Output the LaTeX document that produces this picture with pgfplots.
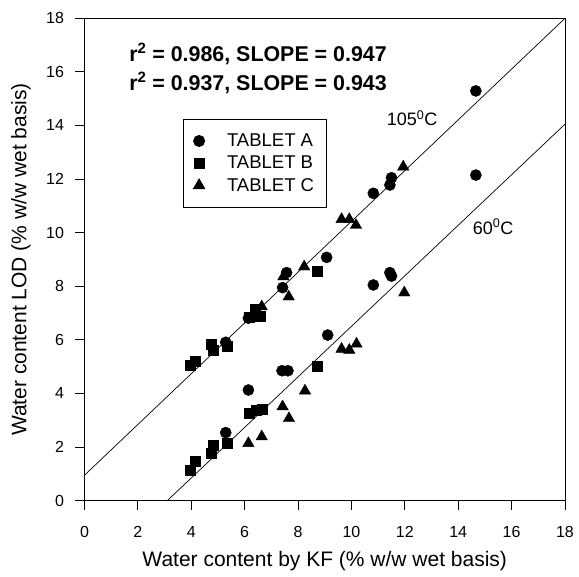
\documentclass[border=0pt]{standalone}
\usepackage{pgfplots}
\pgfplotsset{compat=1.18}
\usepackage{fontspec}
\setmainfont{Liberation Sans}
\begin{document}
\begin{tikzpicture}
\begin{axis}[
  at={(0,0)}, anchor=south west,
  scale only axis, width=480.5pt, height=482.4pt,
  xmin=0, xmax=18, ymin=0, ymax=18,
  xtick={0,2,...,18}, ytick={0,2,...,18},
  tick align=outside, tick pos=left,
  major tick length=9pt,
  axis line style={line width=0.8pt},
  tick style={line width=0.8pt, black},
  /pgf/number format/assume math mode=true,
  tick label style={font=\fontsize{16}{19}\selectfont},
  xticklabel style={anchor=center, yshift=-22pt},
  yticklabel style={anchor=east, xshift=-8pt},
  xlabel={Water content by KF (\% w/w wet basis)},
  ylabel={Water content LOD (\% w/w wet basis)},
  label style={font=\fontsize{21}{25}\selectfont},
  xlabel style={at={(axis description cs:0.5,-0.1244)}, anchor=center},
  ylabel style={at={(axis description cs:-0.1322,0.5)}, anchor=center, rotate=0},
  legend style={at={(0.2044,0.7913)}, anchor=north west, draw=black, line width=0.8pt,
    font=\fontsize{18.5}{22}\selectfont, row sep=4pt, inner xsep=10pt, inner ysep=12.5pt,
    cells={anchor=west}},
  legend image code/.code={\path (-5.6pt,0pt) (25.5pt,0pt); \draw[#1] plot coordinates {(0pt,0pt)};},
  legend cell align=left,
  clip=false,
]
\addplot[only marks, mark=*, mark size=5.6pt, black] coordinates {
(6.14,6.81) (5.29,5.91) (7.42,7.95) (7.57,8.51) (9.07,9.08) (10.82,11.47) (11.44,11.78) (11.50,12.05) (14.66,15.29)
(5.29,2.54) (6.14,4.13) (7.40,4.85) (7.62,4.85) (9.11,6.18) (10.82,8.05) (11.44,8.51) (11.50,8.38) (14.66,12.15)
};
\addlegendentry{TABLET A}
\addplot[only marks, mark=square*, mark size=5pt, black] coordinates {
(3.95,5.04) (4.14,5.22) (4.76,5.85) (4.82,5.62) (5.33,5.78) (6.17,6.85) (6.41,7.14) (6.60,6.89) (8.72,8.55)
(3.95,1.15) (4.14,1.46) (4.76,1.79) (4.82,2.07) (5.33,2.16) (6.17,3.26) (6.42,3.36) (6.64,3.41) (8.73,5.00)
};
\addlegendentry{TABLET B}
\addplot[only marks, mark=triangle*, mark size=6.6pt, black] coordinates {
(6.64,7.24) (7.45,8.36) (7.65,7.61) (8.23,8.73) (9.63,10.50) (9.92,10.50) (10.17,10.28) (11.94,12.46)
(6.14,2.14) (6.64,2.39) (7.42,3.51) (7.66,3.07) (8.26,4.10) (9.63,5.66) (9.92,5.62) (10.19,5.85) (11.98,7.76)
};
\addlegendentry{TABLET C}
\addplot[black, line width=0.7pt, forget plot] coordinates {(0,0.95) (18,18.0)};
\addplot[black, line width=0.7pt, forget plot] coordinates {(3.1,0) (18,14.05)};
\node[anchor=west, font=\bfseries\fontsize{21.4}{25}\selectfont, inner sep=0pt] at (axis cs:1.67,16.67) {r\textsuperscript{2} = 0.986, SLOPE = 0.947};
\node[anchor=west, font=\bfseries\fontsize{21.4}{25}\selectfont, inner sep=0pt] at (axis cs:1.67,15.59) {r\textsuperscript{2} = 0.937, SLOPE = 0.943};
\node[anchor=west, font=\fontsize{18}{21}\selectfont, inner sep=0pt] at (axis cs:11.32,14.28) {105\textsuperscript{0}C};
\node[anchor=west, font=\fontsize{18}{21}\selectfont, inner sep=0pt] at (axis cs:14.54,10.22) {60\textsuperscript{0}C};
\end{axis}
\path (-84.5pt,-76.3pt) rectangle (494.5pt,500.7pt);
\end{tikzpicture}
\end{document}
